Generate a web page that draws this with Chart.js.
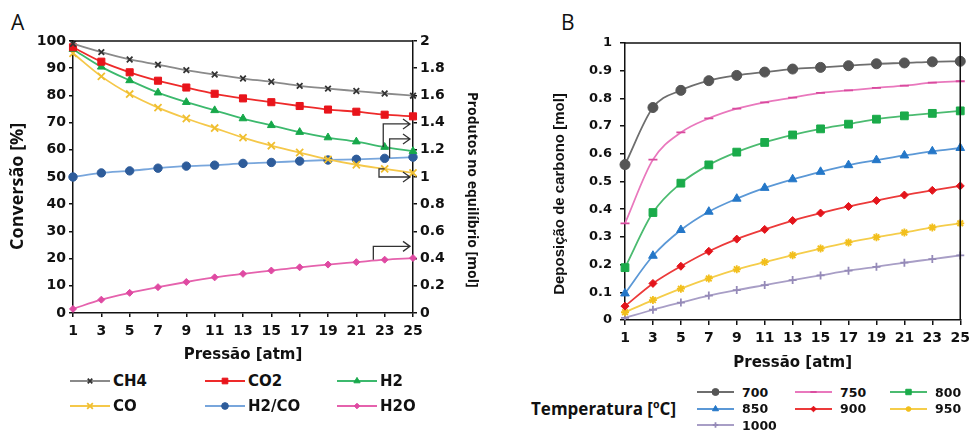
<!DOCTYPE html>
<html>
<head>
<meta charset="utf-8">
<script src="https://cdn.jsdelivr.net/npm/chart.js@4.4.1/dist/chart.umd.min.js"></script>
<style>
  html, body { margin: 0; padding: 0; background: #fff; overflow: hidden; }
  body { width: 971px; height: 430px; position: relative; }
  .wrap { position: absolute; }
  #wrapA { left: 0; top: 0; width: 480px; height: 365px; }
  #wrapB { left: 520px; top: 0; width: 455px; height: 372px; }
  .letter { position: absolute; font: 21px "Open Sans", sans-serif; color: #111; }
  .legend { position: absolute; display: grid; color: #111; font-family: "DejaVu Sans", sans-serif; font-weight: bold; }
  .legend .item { display: flex; align-items: center; white-space: nowrap; }
  #legA { left: 70px; top: 368px; grid-template-columns: 135px 132px 100px; grid-auto-rows: 25px; font-size: 15px; }
  #legA canvas { margin-right: 3px; }
  #legB { left: 697px; top: 384px; grid-template-columns: 98px 95px 80px; grid-auto-rows: 16.5px; font-size: 12.5px; }
  #legB canvas { margin-right: 8px; }
  #tempTitle { position: absolute; left: 531px; top: 397px; font: bold 17px "Open Sans", sans-serif; color: #111; }
</style>
</head>
<body>
<div class="letter" style="left:11px;top:8px">A</div>
<div class="letter" style="left:561px;top:8px">B</div>
<div class="wrap" id="wrapA"><canvas id="chartA"></canvas></div>
<div class="wrap" id="wrapB"><canvas id="chartB"></canvas></div>
<div class="legend" id="legA"></div>
<div id="tempTitle">Temperatura [ºC]</div>
<div class="legend" id="legB"></div>

<script>
// ==============================
// DADOS
// ==============================
const pressao = [1, 3, 5, 7, 9, 11, 13, 15, 17, 19, 21, 23, 25];

// A - conversão [%] (eixo esquerdo)
const convCH4 = [99.0, 95.9, 93.2, 91.3, 89.3, 87.7, 86.2, 85.0, 83.5, 82.5, 81.6, 80.7, 79.9];
const convCO2 = [97.7, 92.4, 88.5, 85.4, 82.9, 80.6, 78.9, 77.5, 76.1, 74.8, 74.0, 72.9, 72.3];
// A - produtos no equilíbrio [mol] (eixo direito)
const molH2 = [1.94, 1.81, 1.71, 1.62, 1.55, 1.49, 1.43, 1.38, 1.33, 1.29, 1.26, 1.22, 1.19];
const molCO = [1.91, 1.74, 1.61, 1.51, 1.43, 1.36, 1.29, 1.23, 1.18, 1.13, 1.09, 1.06, 1.03];
const razaoH2CO = [1.00, 1.03, 1.045, 1.065, 1.08, 1.087, 1.10, 1.107, 1.117, 1.125, 1.13, 1.137, 1.146];
const molH2O = [0.03, 0.098, 0.148, 0.19, 0.228, 0.262, 0.288, 0.312, 0.336, 0.356, 0.374, 0.392, 0.404];

// setas do gráfico A: [pressão da haste, valor inicial, valor do cotovelo] (eixo direito)
const setaPressao = [22.9, 23.35, 22.6, 22.2];
const setaInicio = [1.22, 1.14, 1.06, 0.392];
const setaNivel = [1.39, 1.28, 1.0, 0.49];

// B - deposição de carbono [mol]
const temperaturas = ["700", "750", "800", "850", "900", "950", "1000"];
const dep700 = [0.561, 0.767, 0.829, 0.864, 0.883, 0.895, 0.906, 0.912, 0.918, 0.925, 0.928, 0.932, 0.934];
const dep750 = [0.349, 0.579, 0.677, 0.728, 0.763, 0.786, 0.803, 0.820, 0.829, 0.838, 0.846, 0.857, 0.862];
const dep800 = [0.189, 0.388, 0.494, 0.560, 0.606, 0.641, 0.668, 0.690, 0.707, 0.725, 0.737, 0.746, 0.755];
const dep850 = [0.096, 0.232, 0.325, 0.391, 0.438, 0.477, 0.508, 0.535, 0.559, 0.577, 0.594, 0.609, 0.621];
const dep900 = [0.050, 0.132, 0.194, 0.248, 0.292, 0.327, 0.359, 0.386, 0.410, 0.431, 0.451, 0.468, 0.484];
const dep950 = [0.028, 0.072, 0.113, 0.150, 0.183, 0.209, 0.234, 0.258, 0.280, 0.299, 0.316, 0.334, 0.349];
const dep1000 = [0.008, 0.037, 0.063, 0.088, 0.108, 0.126, 0.144, 0.161, 0.178, 0.192, 0.207, 0.220, 0.233];

// ==============================
// ESTILO COMUM
// ==============================
const tickFont = (size) => ({ family: "DejaVu Sans", weight: "bold", size: size });
const nbsp = (n) => "\u00a0".repeat(n);
const axisBase = {
  border: { color: "#111", width: 1.5 },
  grid: { drawOnChartArea: false, drawTicks: true, tickLength: 4, color: "#111", lineWidth: 1.5 },
};

function serie(label, data, color, pointColor, style, radius, axis) {
  return {
    label: label,
    data: data,
    borderColor: color,
    backgroundColor: pointColor,
    pointBackgroundColor: pointColor,
    pointBorderColor: pointColor,
    pointStyle: style,
    pointRadius: radius,
    pointBorderWidth: style === "crossRot" || style === "cross" || style === "star" || style === "line" ? 1.8 : 1,
    borderWidth: 1.8,
    cubicInterpolationMode: "monotone",
    yAxisID: axis || "y",
  };
}

// moldura (linha superior / direita)
const moldura = {
  id: "moldura",
  afterDraw(chart, args, opts) {
    const a = chart.chartArea;
    const ctx = chart.ctx;
    ctx.save();
    ctx.strokeStyle = "#111";
    ctx.lineWidth = 1.5;
    ctx.beginPath();
    ctx.moveTo(a.left, a.top);
    ctx.lineTo(a.right, a.top);
    if (opts.right) ctx.lineTo(a.right, a.bottom);
    ctx.stroke();
    ctx.restore();
  },
};

// setas indicando o eixo direito
const setas = {
  id: "setas",
  afterDatasetsDraw(chart) {
    const ctx = chart.ctx;
    const x = chart.scales.x;
    const y1 = chart.scales.y1;
    const xr = chart.chartArea.right - 3;
    ctx.save();
    ctx.strokeStyle = "#333";
    ctx.lineWidth = 1.3;
    setaPressao.forEach((p, i) => {
      const px = x.getPixelForValue((p - 1) / 2);
      const y0 = y1.getPixelForValue(setaInicio[i]);
      const yl = y1.getPixelForValue(setaNivel[i]);
      ctx.beginPath();
      if (setaNivel[i] < setaInicio[i]) {
        // haste curta saindo do ponto para a esquerda
        ctx.moveTo(x.getPixelForValue(11), y0);
        ctx.lineTo(px, y0);
      } else {
        ctx.moveTo(px, y0);
      }
      ctx.lineTo(px, yl);
      ctx.lineTo(xr, yl);
      ctx.moveTo(xr - 7, yl - 5);
      ctx.lineTo(xr, yl);
      ctx.lineTo(xr - 7, yl + 5);
      ctx.stroke();
    });
    ctx.restore();
  },
};

// ==============================
// GRÁFICO A
// ==============================
const dsA = [
  serie("CH4", convCH4, "#8a8a8a", "#333333", "crossRot", 4),
  serie("CO2", convCO2, "#ee2a2a", "#e8141b", "rect", 5),
  serie("H2", molH2, "#3cb96d", "#17a84a", "triangle", 4.5, "y1"),
  serie("CO", molCO, "#f5c84a", "#f0bf30", "crossRot", 5, "y1"),
  serie("H2/CO", razaoH2CO, "#78a6dc", "#2e5c9a", "circle", 4.2, "y1"),
  serie("H2O", molH2O, "#e562ad", "#df4aa2", "rectRot", 3.5, "y1"),
];

const chartA = new Chart(document.getElementById("chartA"), {
  type: "line",
  data: { labels: pressao, datasets: dsA },
  plugins: [moldura, setas],
  options: {
    responsive: true,
    maintainAspectRatio: false,
    animation: false,
    layout: { padding: { top: 41, left: 0, right: 0, bottom: 0 } },
    plugins: {
      legend: { display: false },
      tooltip: { enabled: false },
      moldura: { right: false },
    },
    scales: {
      x: {
        ...axisBase,
        type: "category",
        offset: false,
        ticks: { color: "#111", font: tickFont(14), padding: 6, maxRotation: 0, autoSkip: false },
        title: { display: true, text: "Pressão [atm]", color: "#111", font: tickFont(15), padding: { top: 0, bottom: 1 } },
        afterFit: (s) => { s.height = 52; },
      },
      y: {
        ...axisBase,
        position: "left",
        min: 0,
        max: 100,
        ticks: { stepSize: 10, color: "#111", font: tickFont(14), padding: 3 },
        title: { display: true, text: "Conversão [%]" + nbsp(4), color: "#111", font: { family: "Open Sans", weight: "bold", size: 18 }, padding: { top: 7, bottom: 0 } },
        afterFit: (s) => { s.width = 73; },
      },
      y1: {
        ...axisBase,
        position: "right",
        min: 0,
        max: 2,
        ticks: { stepSize: 0.2, color: "#111", font: tickFont(14), padding: 3, callback: (v) => +v.toFixed(1) },
        title: { display: true, text: nbsp(7) + "Produtos no equilíbrio [mol]", color: "#111", font: { family: "Open Sans", weight: "bold", size: 14 }, padding: { top: 0, bottom: 0 } },
        afterFit: (s) => { s.width = 67; },
      },
    },
  },
});

// ==============================
// GRÁFICO B
// ==============================
const dsB = [
  serie(temperaturas[0], dep700, "#6e6e6e", "#555555", "circle", 5),
  serie(temperaturas[1], dep750, "#e978bd", "#d94a9e", "line", 4.5),
  serie(temperaturas[2], dep800, "#4bbb70", "#1aab4a", "rect", 5.5),
  serie(temperaturas[3], dep850, "#5b98d6", "#2477c8", "triangle", 5),
  serie(temperaturas[4], dep900, "#ec3a3a", "#e3141b", "rectRot", 4),
  serie(temperaturas[5], dep950, "#f5cd4a", "#f2bf1c", "star", 4),
  serie(temperaturas[6], dep1000, "#a89ec6", "#958ab8", "cross", 4),
];

const chartB = new Chart(document.getElementById("chartB"), {
  type: "line",
  data: { labels: pressao, datasets: dsB },
  plugins: [moldura],
  options: {
    responsive: true,
    maintainAspectRatio: false,
    animation: false,
    layout: { padding: { top: 43, left: 0, right: 12, bottom: 0 } },
    plugins: {
      legend: { display: false },
      tooltip: { enabled: false },
      moldura: { right: true },
    },
    scales: {
      x: {
        ...axisBase,
        type: "category",
        offset: false,
        grid: { ...axisBase.grid, tickLength: 5 },
        ticks: { color: "#111", font: tickFont(14), padding: 5, maxRotation: 0, autoSkip: false },
        title: { display: true, text: "Pressão [atm]", color: "#111", font: tickFont(15), padding: { top: 0, bottom: 0 } },
        afterFit: (s) => { s.height = 52; },
      },
      y: {
        ...axisBase,
        position: "left",
        min: 0,
        max: 1,
        grid: { ...axisBase.grid, tickLength: 5 },
        ticks: { stepSize: 0.1, color: "#111", font: tickFont(13), padding: 8, callback: (v) => +v.toFixed(1) },
        title: { display: true, text: "Deposição de carbono [mol]" + nbsp(6), color: "#111", font: { family: "Liberation Sans", weight: "bold", size: 15 }, padding: { top: 31, bottom: 0 } },
        afterFit: (s) => { s.width = 105; },
      },
    },
  },
});

// ==============================
// LEGENDAS (HTML)
// ==============================
function desenhaLegenda(el, datasets, w, h, escala) {
  datasets.forEach((ds) => {
    const item = document.createElement("div");
    item.className = "item";
    const c = document.createElement("canvas");
    c.width = w;
    c.height = h;
    const ctx = c.getContext("2d");
    ctx.strokeStyle = ds.borderColor;
    ctx.lineWidth = 2;
    ctx.beginPath();
    ctx.moveTo(0, h / 2);
    ctx.lineTo(w, h / 2);
    ctx.stroke();
    ctx.fillStyle = ds.pointBackgroundColor;
    ctx.strokeStyle = ds.pointBorderColor;
    ctx.lineWidth = ds.pointBorderWidth;
    Chart.helpers.drawPoint(ctx, { pointStyle: ds.pointStyle, radius: ds.pointRadius * escala, rotation: 0, borderWidth: ds.pointBorderWidth }, w / 2, h / 2);
    const t = document.createElement("span");
    t.textContent = ds.label;
    item.appendChild(c);
    item.appendChild(t);
    el.appendChild(item);
  });
}

desenhaLegenda(document.getElementById("legA"), dsA, 40, 14, 0.8);
desenhaLegenda(document.getElementById("legB"), dsB, 37, 12, 0.7);
</script>
</body>
</html>
